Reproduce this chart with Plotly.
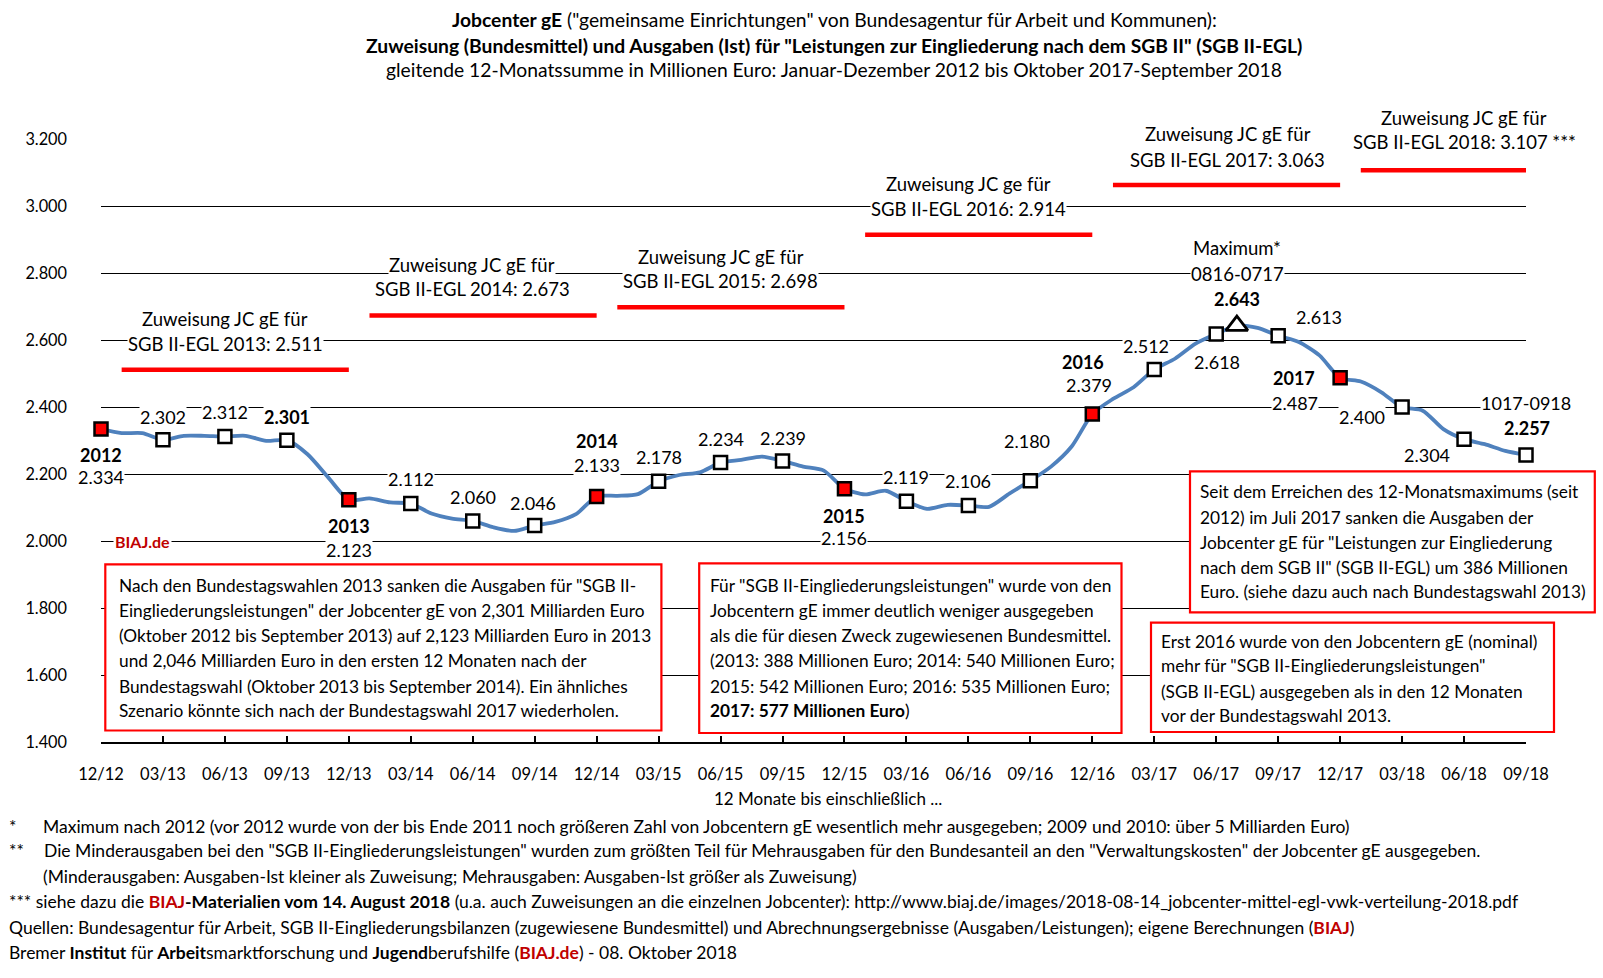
import plotly.graph_objects as go

# ---------------- data ----------------
values = [2334, 2322, 2322, 2302, 2314, 2314, 2312, 2314, 2299, 2301, 2259, 2190,
          2123, 2127, 2115, 2112, 2082, 2067, 2060, 2041, 2030, 2046, 2057, 2080,
          2133, 2135, 2140, 2178, 2197, 2205, 2234, 2242, 2252, 2239, 2222, 2210,
          2156, 2139, 2150, 2119, 2096, 2108, 2106, 2102, 2142, 2180, 2222, 2282,
          2379, 2424, 2459, 2512, 2544, 2589, 2618, 2643, 2636, 2613, 2594, 2554,
          2487, 2476, 2444, 2400, 2389, 2334, 2304, 2289, 2269, 2257]

tick_labels = ["12/12", "03/13", "06/13", "09/13", "12/13", "03/14", "06/14", "09/14",
               "12/14", "03/15", "06/15", "09/15", "12/15", "03/16", "06/16", "09/16",
               "12/16", "03/17", "06/17", "09/17", "12/17", "03/18", "06/18", "09/18"]

year_end_labels = ["12/12", "12/13", "12/14", "12/15", "12/16", "12/17"]
max_label = "07/17"

zuw_years = [2013, 2014, 2015, 2016, 2017, 2018]
zuw_values = [2511, 2673, 2698, 2914, 3063, 3107]
zuw_start = ["01/13", "01/14", "01/15", "01/16", "01/17", "01/18"]
zuw_end = ["12/13", "12/14", "12/15", "12/16", "12/17", "09/18"]

y_ticks = [1400, 1600, 1800, 2000, 2200, 2400, 2600, 2800, 3000, 3200]
y_ticktext = ["1.400", "1.600", "1.800", "2.000", "2.200", "2.400", "2.600", "2.800", "3.000", "3.200"]

# month category labels 12/12 ... 09/18
month_labels = []
for i in range(len(values)):
    m = (11 + i) % 12 + 1
    yy = 12 + (11 + i) // 12
    month_labels.append(f"{m:02d}/{yy:02d}")

FONT = "Lato, Calibri, Carlito, sans-serif"
W, H = 1603, 978
L, R, T, B = 101, 1526, 139, 742


def px(x):
    return (x - L) / (R - L)


def py(y):
    return (B - y) / (B - T)


fig = go.Figure()

# main line
fig.add_trace(go.Scatter(x=month_labels, y=values, mode="lines",
                         line=dict(color="#4F81BD", width=3.8, shape="spline", smoothing=0.7),
                         showlegend=False, cliponaxis=False))

# Zuweisung red segments
zx, zy = [], []
for s, e, v in zip(zuw_start, zuw_end, zuw_values):
    i0, i1 = month_labels.index(s), month_labels.index(e)
    zx += month_labels[i0:i1 + 1] + [None]
    zy += [v] * (i1 - i0 + 1) + [None]
fig.add_trace(go.Scatter(x=zx, y=zy, mode="lines", line=dict(color="#FF0000", width=4.5),
                         hoverinfo="skip", showlegend=False, cliponaxis=False, connectgaps=False))

# white quarter markers
q_labels = [t for t in tick_labels if t not in year_end_labels]
fig.add_trace(go.Scatter(x=q_labels, y=[values[month_labels.index(t)] for t in q_labels],
                         mode="markers", marker=dict(symbol="square", size=13, color="white",
                                                     line=dict(color="black", width=2.5)),
                         showlegend=False, cliponaxis=False))
# red year-end markers
fig.add_trace(go.Scatter(x=year_end_labels, y=[values[month_labels.index(t)] for t in year_end_labels],
                         mode="markers", marker=dict(symbol="square", size=13, color="#FF0000",
                                                     line=dict(color="black", width=2.5)),
                         showlegend=False, cliponaxis=False))
# maximum triangle
fig.add_trace(go.Scatter(x=[max_label], y=[values[month_labels.index(max_label)]],
                         mode="markers", marker=dict(symbol="triangle-up", size=19, color="white",
                                                     line=dict(color="black", width=2.8)),
                         showlegend=False, cliponaxis=False))

annotations = []


def fmt(v):
    return f"{v/1000:.3f}"


def dlab(month, text, dx, dy, bold=False, size=18):
    v = values[month_labels.index(month)]
    t = f"<b>{text}</b>" if bold else text
    annotations.append(dict(x=month, y=v, xref="x", yref="y", text=t, showarrow=False,
                            xshift=dx, yshift=dy, font=dict(family=FONT, size=size, color="black"),
                            bgcolor="white", borderpad=0))


def val(month):
    return fmt(values[month_labels.index(month)])


dlab("12/12", "2012", 0, -25.5, True)
dlab("12/12", val("12/12"), 0, -48)
dlab("03/13", val("03/13"), 0, 23)
dlab("06/13", val("06/13"), 0, 24)
dlab("09/13", val("09/13"), 0, 23.5, True)
dlab("12/13", "2013", 0, -26.5, True)
dlab("12/13", val("12/13"), 0, -50)
dlab("03/14", val("03/14"), 0, 24.5)
dlab("06/14", val("06/14"), 0, 23.5)
dlab("09/14", val("09/14"), -2, 23)
dlab("12/14", "2014", 0, 55, True)
dlab("12/14", val("12/14"), 0, 31)
dlab("03/15", val("03/15"), 0, 24)
dlab("06/15", val("06/15"), 0, 23.5)
dlab("09/15", val("09/15"), 0, 23)
dlab("12/15", "2015", 0, -27, True)
dlab("12/15", val("12/15"), 0, -49.5)
dlab("03/16", val("03/16"), 0, 24)
dlab("06/16", val("06/16"), 0, 24)
dlab("09/16", val("09/16"), -3, 40)
dlab("12/16", "2016", -9, 52, True)
dlab("12/16", val("12/16"), -3, 29)
dlab("03/17", val("03/17"), -8, 23)
dlab("06/17", val("06/17"), 1, -28)
dlab("07/17", val("07/17"), 0, 27, True)
dlab("09/17", val("09/17"), 41, 18.5)
dlab("12/17", "2017", -46, 0, True)
dlab("12/17", val("12/17"), -45, -25.5)
dlab("03/18", val("03/18"), -40, -10)
dlab("06/18", val("06/18"), -37, -16)
dlab("09/18", val("09/18"), 1, 27, True)
dlab("09/18", "1017-0918", 0, 52)

# BIAJ.de label
annotations.append(dict(x="02/13", y=2000, xref="x", yref="y", text="<b>BIAJ.de</b>", showarrow=False,
                        font=dict(family=FONT, size=16, color="#C00000"), bgcolor="white", borderpad=1))


def ptext(x, y, text, size=18.5, anchor="center", bg="white", color="black"):
    annotations.append(dict(x=px(x), y=py(y), xref="paper", yref="paper", text=text, showarrow=False,
                            xanchor=anchor, yanchor="middle", align=anchor if anchor != "center" else "center",
                            font=dict(family=FONT, size=size, color=color),
                            bgcolor=bg, borderpad=0))


# Zuweisung labels
zuw_pos = [(225, 319, 343.5), (472, 264.8, 289.3), (720.7, 256.6, 281.1),
           (968, 184, 208.5), (1227.8, 134, 159.5), (1464, 117.6, 142)]
for yr, v, (cx, y1, y2) in zip(zuw_years, zuw_values, zuw_pos):
    first = "Zuweisung JC ge für" if yr == 2016 else "Zuweisung JC gE für"
    second = f"SGB II-EGL {yr}: {fmt(v)}" + (" ***" if yr == 2018 else "")
    ptext(cx, y1, first)
    ptext(cx, y2, second)

ptext(1237, 248.4, "Maximum*")
ptext(1237, 274, "0816-0717")

# Title
TS = 19.3
ptext(834, 19.4, '<b>Jobcenter gE</b> ("gemeinsame Einrichtungen" von Bundesagentur für Arbeit und Kommunen):', TS, bg=None)
ptext(834, 45, '<b>Zuweisung (Bundesmittel) und Ausgaben (Ist) für "Leistungen zur Eingliederung nach dem SGB II" (SGB II-EGL)</b>', TS, bg=None)
ptext(834, 69.5, "gleitende 12-Monatssumme in Millionen Euro: Januar-Dezember 2012 bis Oktober 2017-September 2018", TS, bg=None)

# x axis title
ptext(828, 799, "12 Monate bis einschließlich ...", 17, bg=None)

# boxes
shapes = []
boxes = [(105.3, 564.3, 661.4, 730.5), (699.2, 563.3, 1121.5, 733), (1190, 471.3, 1594.8, 612.4),
         (1151, 622.6, 1554, 732)]
for x0, y0, x1, y1 in boxes:
    shapes.append(dict(type="rect", xref="paper", yref="paper", x0=px(x0), x1=px(x1), y0=py(y1), y1=py(y0),
                       line=dict(color="#FF0000", width=2.2), fillcolor="white", layer="above"))

box1 = ['Nach den Bundestagswahlen 2013 sanken die Ausgaben für "SGB II-',
        'Eingliederungsleistungen" der Jobcenter gE von 2,301 Milliarden Euro',
        '(Oktober 2012 bis September 2013) auf 2,123 Milliarden Euro in 2013',
        'und 2,046 Milliarden Euro in den ersten 12 Monaten nach der',
        'Bundestagswahl (Oktober 2013 bis September 2014). Ein ähnliches',
        'Szenario könnte sich nach der Bundestagswahl 2017 wiederholen.']
box2 = ['Für "SGB II-Eingliederungsleistungen" wurde von den',
        'Jobcentern gE immer deutlich weniger ausgegeben',
        'als die für diesen Zweck zugewiesenen Bundesmittel.',
        '(2013: 388 Millionen Euro; 2014: 540 Millionen Euro;',
        '2015: 542 Millionen Euro; 2016: 535 Millionen Euro;',
        '<b>2017: 577 Millionen Euro</b>)']
box3 = ['Seit dem Erreichen des 12-Monatsmaximums (seit',
        '2012) im Juli 2017 sanken die Ausgaben der',
        'Jobcenter gE für "Leistungen zur Eingliederung',
        'nach dem SGB II" (SGB II-EGL) um 386 Millionen',
        'Euro. (siehe dazu auch nach Bundestagswahl 2013)']
box4 = ['Erst 2016 wurde von den Jobcentern gE (nominal)',
        'mehr für "SGB II-Eingliederungsleistungen"',
        '(SGB II-EGL) ausgegeben als in den 12 Monaten',
        'vor der Bundestagswahl 2013.']
BS = 17.3
ys12 = [585.8, 610.3, 635.9, 660.4, 686, 710.5]
for txt, y in zip(box1, ys12):
    ptext(117.6, y, txt, BS, anchor="left", bg=None)
for txt, y in zip(box2, ys12):
    ptext(708.5, y, txt, BS, anchor="left", bg=None)
for txt, y in zip(box3, [491.7, 517.3, 542.8, 567.4, 591.9]):
    ptext(1199, y, txt, BS, anchor="left", bg=None)
for txt, y in zip(box4, [641, 665.5, 691, 715.6]):
    ptext(1160, y, txt, BS, anchor="left", bg=None)

# footnotes
RED = "#C00000"
FS = 17.5
foot = [
    (8, 826, "*"),
    (42, 826, "Maximum nach 2012 (vor 2012 wurde von der bis Ende 2011 noch größeren Zahl von Jobcentern gE wesentlich mehr ausgegeben; 2009 und 2010: über 5 Milliarden Euro)"),
    (8, 850.5, "**"),
    (43, 850.5, 'Die Minderausgaben bei den "SGB II-Eingliederungsleistungen" wurden zum größten Teil für Mehrausgaben für den Bundesanteil an den "Verwaltungskosten" der Jobcenter gE ausgegeben.'),
    (42, 876, "(Minderausgaben: Ausgaben-Ist kleiner als Zuweisung; Mehrausgaben: Ausgaben-Ist größer als Zuweisung)"),
    (8, 901.6, f'*** siehe dazu die <b><span style="color:{RED}">BIAJ</span>-Materialien vom 14. August 2018</b> (u.a. auch Zuweisungen an die einzelnen Jobcenter): http://www.biaj.de/images/2018-08-14_jobcenter-mittel-egl-vwk-verteilung-2018.pdf'),
    (8, 927, f'Quellen: Bundesagentur für Arbeit, SGB II-Eingliederungsbilanzen (zugewiesene Bundesmittel) und Abrechnungsergebnisse (Ausgaben/Leistungen); eigene Berechnungen (<b><span style="color:{RED}">BIAJ</span></b>)'),
    (8, 952, f'Bremer <b>Institut</b> für <b>Arbeit</b>smarktforschung und <b>Jugend</b>berufshilfe (<b><span style="color:{RED}">BIAJ.de</span></b>) - 08. Oktober 2018'),
]
for x, y, t in foot:
    ptext(x, y, t, FS, anchor="left", bg=None)

fig.update_layout(
    width=W, height=H,
    margin=dict(l=L, r=W - R, t=T, b=H - B),
    paper_bgcolor="white", plot_bgcolor="white",
    font=dict(family=FONT, size=16, color="black"),
    annotations=annotations, shapes=shapes, showlegend=False,
    xaxis=dict(type="category", categoryorder="array", categoryarray=month_labels,
               range=[0, len(values) - 1], tickmode="array",
               tickvals=tick_labels, ticktext=tick_labels, showgrid=False, zeroline=False,
               showline=True, linecolor="black", linewidth=2, ticks="inside", ticklen=6,
               tickwidth=1.5, tickcolor="black", tickfont=dict(family=FONT, size=16.5),
               ticklabelstandoff=16),
    yaxis=dict(range=[1400, 3200], tickmode="array", tickvals=y_ticks, ticktext=y_ticktext,
               showgrid=True, gridcolor="black", gridwidth=1, zeroline=False, showline=False,
               ticks="", tickfont=dict(family=FONT, size=16.3), ticklabelstandoff=33),
)

fig.write_html("out.html", config={"displayModeBar": False},
               post_script="document.body.style.margin='0';document.body.style.overflow='hidden';")
